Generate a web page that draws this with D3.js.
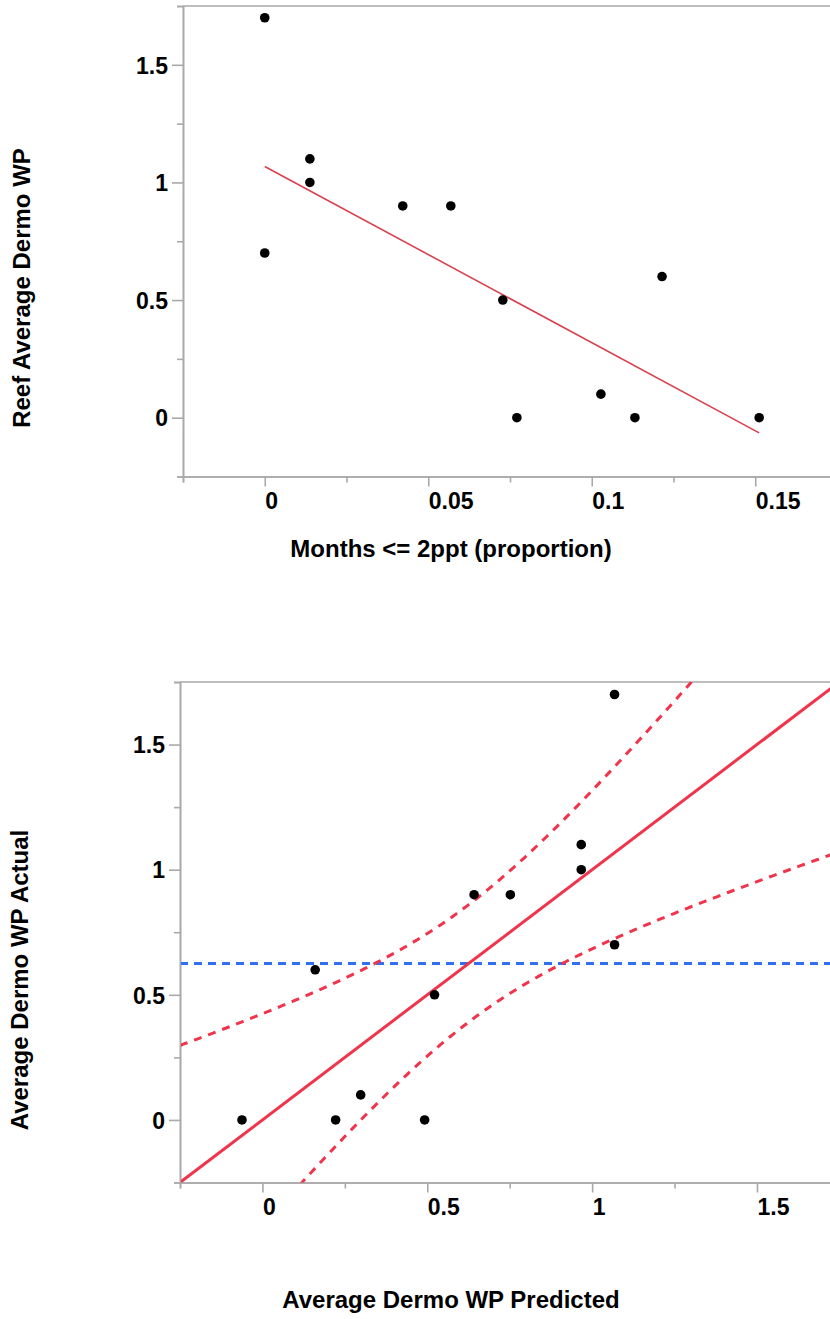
<!DOCTYPE html>
<html>
<head>
<meta charset="utf-8">
<script src="https://cdn.jsdelivr.net/npm/d3@7"></script>
<style>
  html, body { margin: 0; padding: 0; background: #fff; }
  svg { display: block; }
  text { font-family: "Liberation Sans", Arial, sans-serif; font-weight: bold; fill: #000; }
</style>
</head>
<body>
<svg id="chart" width="830" height="1319"></svg>
<script>
// ---------------- DATA ----------------
const monthsLow = [0, 0, 0.0138, 0.0138, 0.0422, 0.0569, 0.0728, 0.0771, 0.1028, 0.1132, 0.1215, 0.1512];
const dermoActual = [1.7, 0.7, 1.1, 1.0, 0.9, 0.9, 0.5, 0, 0.1, 0, 0.6, 0];
const dermoPredicted = [1.068, 1.068, 0.967, 0.967, 0.752, 0.642, 0.522, 0.492, 0.298, 0.222, 0.160, -0.062];
const fitIntercept = 1.068;
const fitSlope = -7.49;
const meanActual = 0.625;
const bandMinSq = 0.055;   // squared half-width of confidence curve at the mean
const bandSpread = 0.32;   // growth of squared half-width with distance from mean

const topXTicks = [0, 0.05, 0.1, 0.15];
const topXTickLabels = ["0", "0.05", "0.1", "0.15"];
const topXMinor = [-0.025, 0.025, 0.075, 0.125];
const yTicks = [0, 0.5, 1, 1.5];
const yTickLabels = ["0", "0.5", "1", "1.5"];
const yMinor = [-0.25, 0.25, 0.75, 1.25, 1.75];
const botXTicks = [0, 0.5, 1, 1.5];
const botXTickLabels = ["0", "0.5", "1", "1.5"];
const botXMinor = [-0.25, 0.25, 0.75, 1.25];

const topXTitle = "Months <= 2ppt (proportion)";
const topYTitle = "Reef Average Dermo WP";
const botXTitle = "Average Dermo WP Predicted";
const botYTitle = "Average Dermo WP Actual";

// ---------------- DRAW ----------------
const svg = d3.select("#chart");
const axisColor = "#a9a9a9";
const tickFont = 23;
const titleFont = 24;

function styleAxis(g) {
  g.select(".domain").attr("stroke", axisColor).attr("stroke-width", 1.6);
  g.selectAll(".tick line").attr("stroke", axisColor).attr("stroke-width", 1.6);
  g.selectAll(".tick text").style("font-size", tickFont + "px");
}

function drawPanel(cfg) {
  const { x, y, xTicks, xLabels, xMinor, yLabels } = cfg;
  const x0 = x.range()[0], y0 = y.range()[0], yTop = y.range()[1];

  svg.append("g").attr("transform", `translate(0,${y0})`)
    .call(d3.axisBottom(x).tickValues(xMinor).tickSize(6).tickFormat(""))
    .call(styleAxis);
  svg.append("g").attr("transform", `translate(${x0},0)`)
    .call(d3.axisLeft(y).tickValues(yMinor).tickSize(6).tickFormat(""))
    .call(styleAxis);

  const gx = svg.append("g").attr("transform", `translate(0,${y0})`)
    .call(d3.axisBottom(x).tickValues(xTicks).tickSize(10).tickSizeOuter(0)
      .tickFormat((d, i) => xLabels[i]))
    .call(styleAxis);
  gx.selectAll(".tick text").attr("text-anchor", "start").attr("x", 0).attr("y", 16).attr("dy", "0.71em");

  const gy = svg.append("g").attr("transform", `translate(${x0},0)`)
    .call(d3.axisLeft(y).tickValues(yTicks).tickSize(11).tickSizeOuter(0)
      .tickFormat((d, i) => yLabels[i]))
    .call(styleAxis);
  gy.selectAll(".tick text").attr("x", -15).attr("dy", "0.36em");

  svg.append("line")
    .attr("x1", x0).attr("x2", x.range()[1])
    .attr("y1", yTop).attr("y2", yTop)
    .attr("stroke", axisColor).attr("stroke-width", 1.6);
}

// ---- Top panel ----
const xTop = d3.scaleLinear().domain([-0.025, 0.175]).range([183, 837]);
const yTopS = d3.scaleLinear().domain([-0.25, 1.75]).range([476.5, 6]);
drawPanel({ x: xTop, y: yTopS, xTicks: topXTicks, xLabels: topXTickLabels, xMinor: topXMinor, yLabels: yTickLabels });

const xExt = d3.extent(monthsLow);
svg.append("line")
  .attr("x1", xTop(xExt[0])).attr("y1", yTopS(fitIntercept + fitSlope * xExt[0]))
  .attr("x2", xTop(xExt[1])).attr("y2", yTopS(fitIntercept + fitSlope * xExt[1]))
  .attr("stroke", "#d8424f").attr("stroke-width", 1.6);

svg.append("g").selectAll("circle").data(monthsLow).join("circle")
  .attr("cx", d => xTop(d)).attr("cy", (d, i) => yTopS(dermoActual[i]))
  .attr("r", 4.8).attr("fill", "#000");

svg.append("text").attr("x", 451).attr("y", 557).attr("text-anchor", "middle")
  .style("font-size", titleFont + "px").text(topXTitle);
svg.append("text").attr("transform", "translate(30,288) rotate(-90)").attr("text-anchor", "middle")
  .style("font-size", titleFont + "px").text(topYTitle);

// ---- Bottom panel ----
const xBot = d3.scaleLinear().domain([-0.25, 1.75]).range([180, 839.4]);
const yBot = d3.scaleLinear().domain([-0.25, 1.75]).range([1182.5, 682]);
drawPanel({ x: xBot, y: yBot, xTicks: botXTicks, xLabels: botXTickLabels, xMinor: botXMinor, yLabels: yTickLabels });

svg.append("defs").append("clipPath").attr("id", "clipBot")
  .append("rect").attr("x", 181).attr("y", 682).attr("width", 660).attr("height", 500.5);

const plot = svg.append("g").attr("clip-path", "url(#clipBot)");
const red = "#f0344b";
const grid = d3.range(-0.25, 1.7501, 0.01);
const line = d3.line().x(d => xBot(d[0])).y(d => yBot(d[1]));

plot.append("line")
  .attr("x1", xBot(-0.25)).attr("x2", xBot(1.75))
  .attr("y1", yBot(meanActual)).attr("y2", yBot(meanActual))
  .attr("stroke", "#2f6ff0").attr("stroke-width", 3).attr("stroke-dasharray", "8,6");

const halfW = v => Math.sqrt(bandMinSq + bandSpread * (v - meanActual) * (v - meanActual));
plot.append("path").attr("d", line(grid.map(v => [v, v + halfW(v)])))
  .attr("fill", "none").attr("stroke", red).attr("stroke-width", 3).attr("stroke-dasharray", "8,7");
plot.append("path").attr("d", line(grid.map(v => [v, v - halfW(v)])))
  .attr("fill", "none").attr("stroke", red).attr("stroke-width", 3).attr("stroke-dasharray", "8,7");

plot.append("line")
  .attr("x1", xBot(-0.25)).attr("y1", yBot(-0.25))
  .attr("x2", xBot(1.75)).attr("y2", yBot(1.75))
  .attr("stroke", red).attr("stroke-width", 3);

svg.append("g").selectAll("circle").data(dermoPredicted).join("circle")
  .attr("cx", d => xBot(d)).attr("cy", (d, i) => yBot(dermoActual[i]))
  .attr("r", 4.8).attr("fill", "#000");

svg.append("text").attr("x", 451).attr("y", 1308).attr("text-anchor", "middle")
  .style("font-size", titleFont + "px").text(botXTitle);
svg.append("text").attr("transform", "translate(28,980) rotate(-90)").attr("text-anchor", "middle")
  .style("font-size", titleFont + "px").text(botYTitle);
</script>
</body>
</html>
